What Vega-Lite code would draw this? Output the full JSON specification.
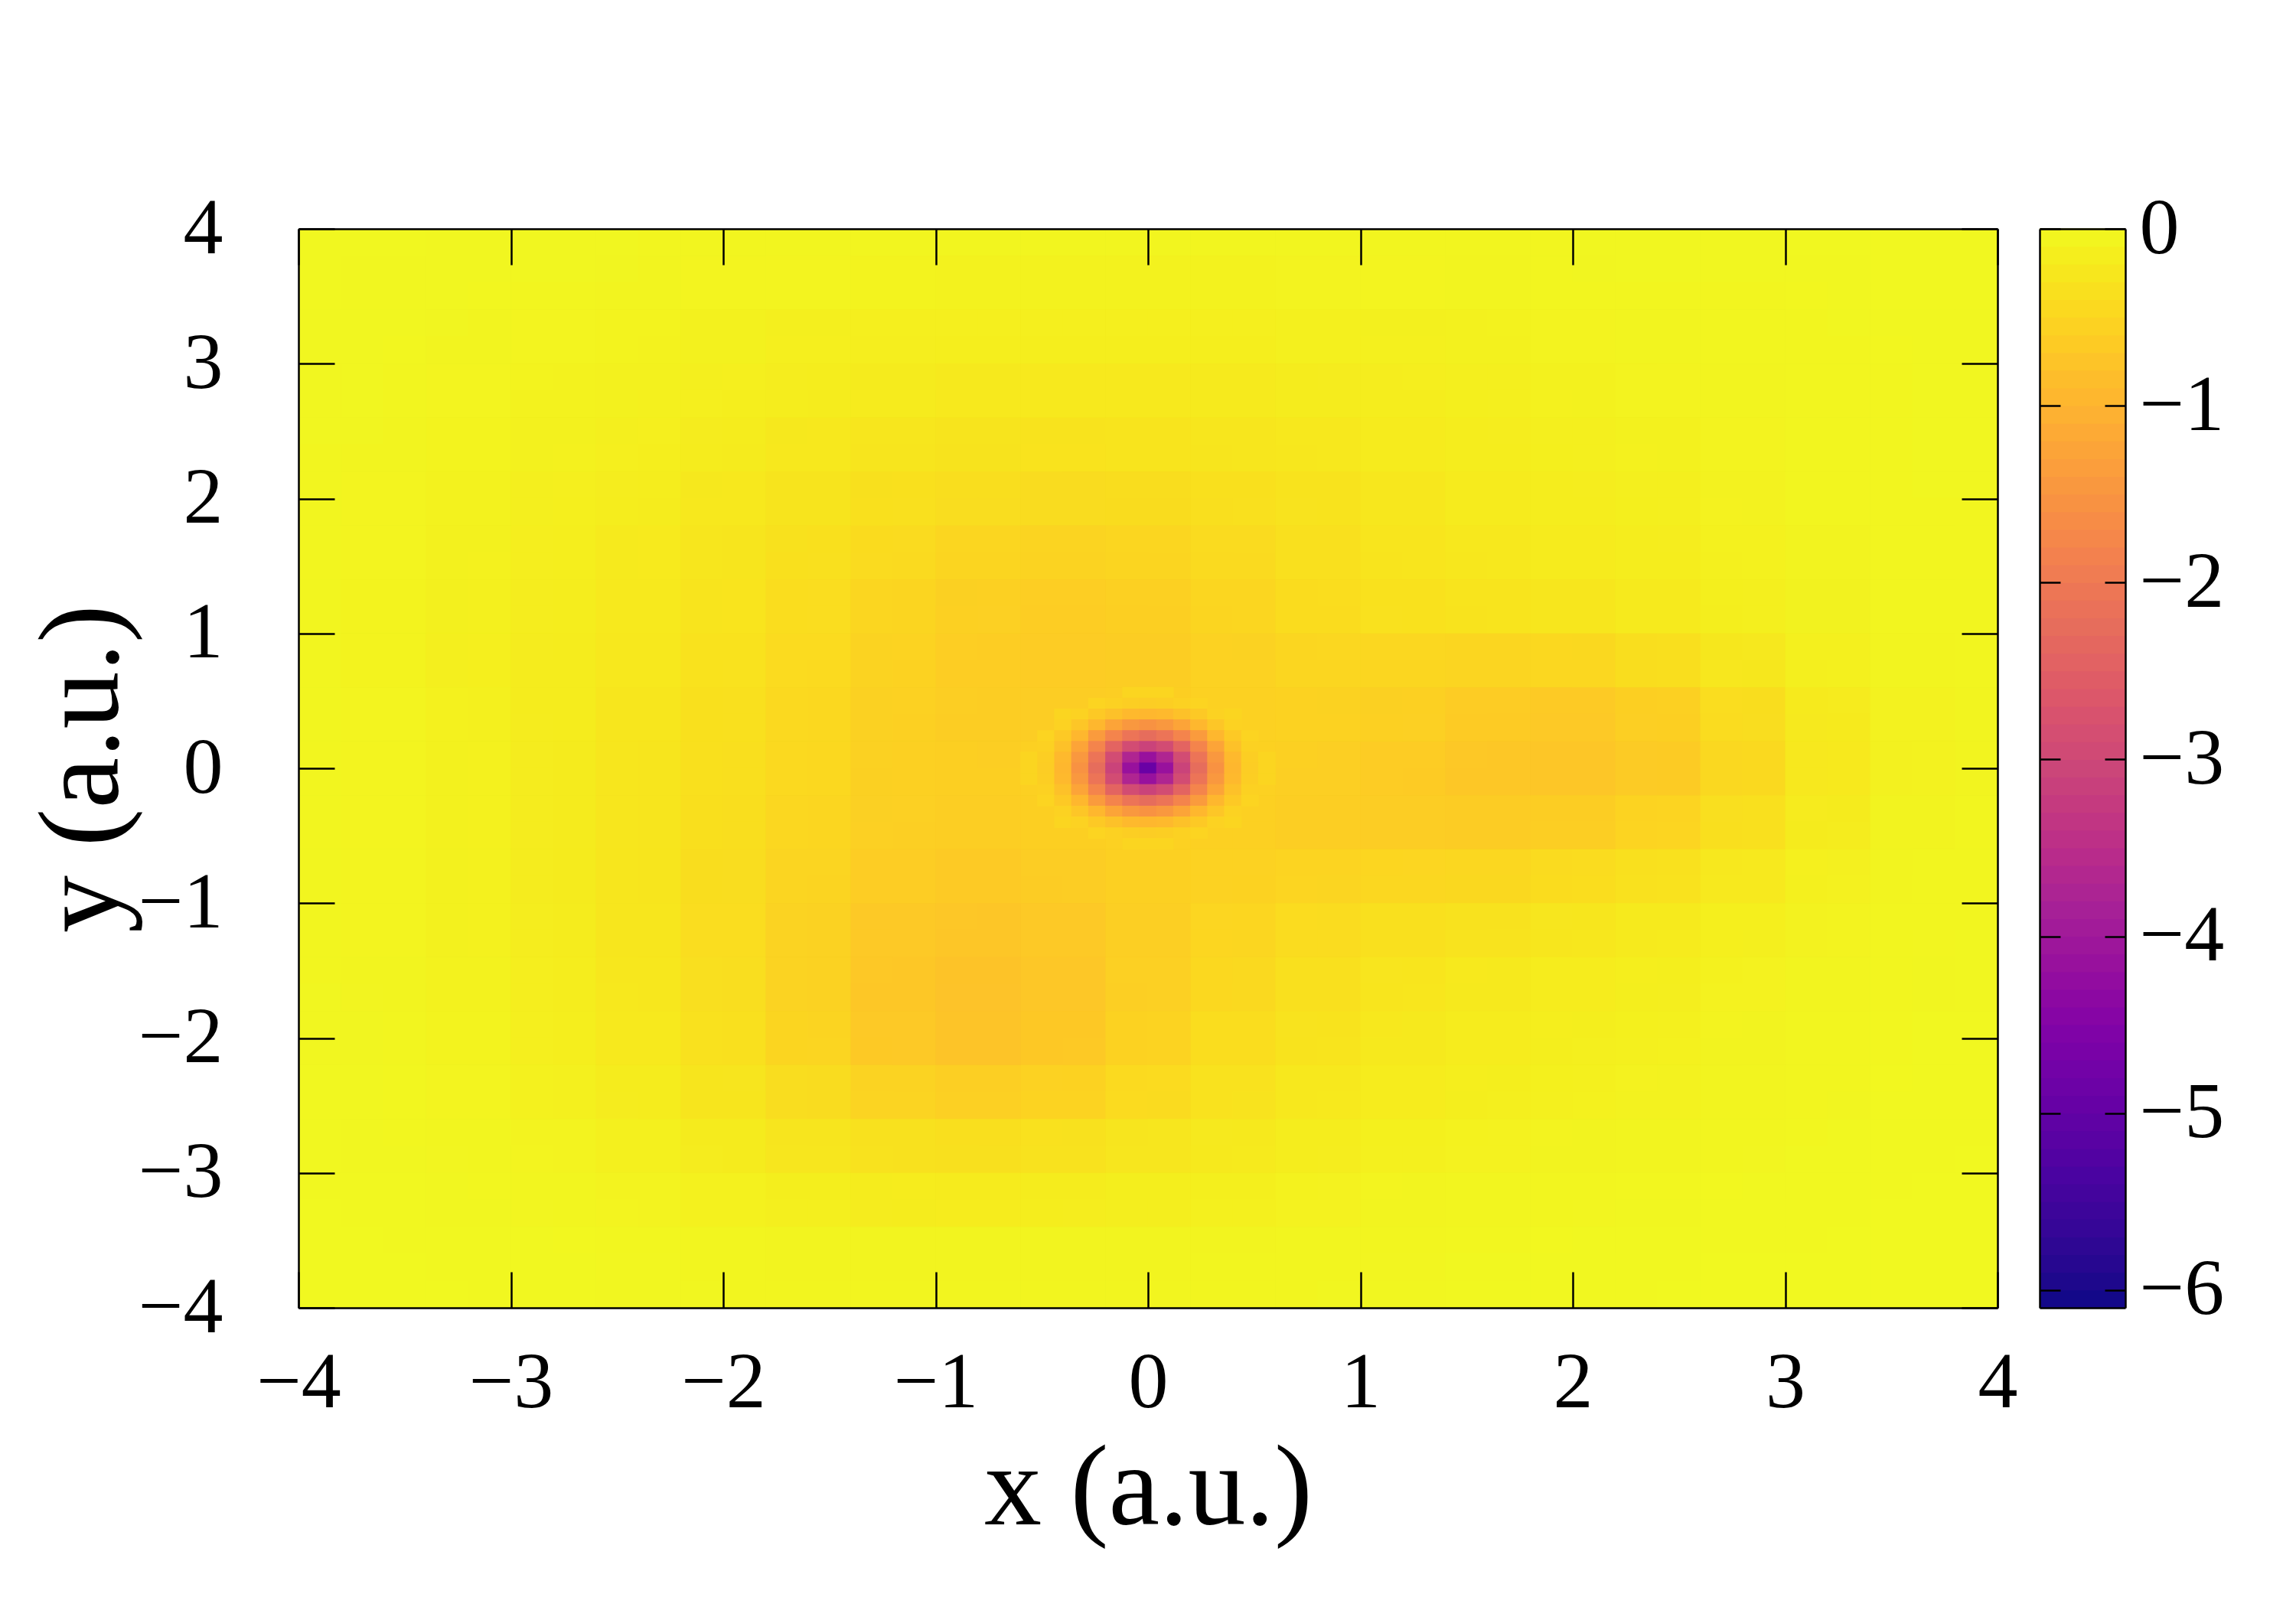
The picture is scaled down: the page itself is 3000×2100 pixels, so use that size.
{"$schema":"https://vega.github.io/schema/vega-lite/v6.json","background":"white","autosize":{"type":"none"},"padding":{"left":390,"top":299,"right":390,"bottom":391},"width":2220,"height":1410,
"config":{"font":"Liberation Serif","view":{"stroke":null},"axis":{"grid":false,"domainColor":"black","domainWidth":2.5,"tickColor":"black","tickWidth":2.5,"labelColor":"black","titleColor":"black","labelFontSize":104,"titleFontSize":150,"titleFontWeight":"normal","labelFont":"Liberation Serif","titleFont":"Liberation Serif"}},
"datasets":{"field":[
{"x":-3.8,"y":3.8,"v":-0.03},{"x":-3.4,"y":3.8,"v":-0.03},{"x":-3.0,"y":3.8,"v":-0.04},{"x":-2.6,"y":3.8,"v":-0.04},{"x":-2.2,"y":3.8,"v":-0.05},{"x":-1.8,"y":3.8,"v":-0.05},{"x":-1.4,"y":3.8,"v":-0.05},{"x":-1.0,"y":3.8,"v":-0.06},{"x":-0.6,"y":3.8,"v":-0.06},{"x":-0.2,"y":3.8,"v":-0.06},{"x":0.2,"y":3.8,"v":-0.06},{"x":0.6,"y":3.8,"v":-0.06},{"x":1.0,"y":3.8,"v":-0.05},{"x":1.4,"y":3.8,"v":-0.05},{"x":1.8,"y":3.8,"v":-0.05},{"x":2.2,"y":3.8,"v":-0.04},{"x":2.6,"y":3.8,"v":-0.04},{"x":3.0,"y":3.8,"v":-0.04},{"x":3.4,"y":3.8,"v":-0.03},{"x":3.8,"y":3.8,"v":-0.03},
{"x":-3.8,"y":3.4,"v":-0.03},{"x":-3.4,"y":3.4,"v":-0.04},{"x":-3.0,"y":3.4,"v":-0.05},{"x":-2.6,"y":3.4,"v":-0.06},{"x":-2.2,"y":3.4,"v":-0.07},{"x":-1.8,"y":3.4,"v":-0.08},{"x":-1.4,"y":3.4,"v":-0.09},{"x":-1.0,"y":3.4,"v":-0.1},{"x":-0.6,"y":3.4,"v":-0.1},{"x":-0.2,"y":3.4,"v":-0.1},{"x":0.2,"y":3.4,"v":-0.1},{"x":0.6,"y":3.4,"v":-0.1},{"x":1.0,"y":3.4,"v":-0.09},{"x":1.4,"y":3.4,"v":-0.08},{"x":1.8,"y":3.4,"v":-0.07},{"x":2.2,"y":3.4,"v":-0.06},{"x":2.6,"y":3.4,"v":-0.05},{"x":3.0,"y":3.4,"v":-0.05},{"x":3.4,"y":3.4,"v":-0.04},{"x":3.8,"y":3.4,"v":-0.03},
{"x":-3.8,"y":3.0,"v":-0.04},{"x":-3.4,"y":3.0,"v":-0.05},{"x":-3.0,"y":3.0,"v":-0.07},{"x":-2.6,"y":3.0,"v":-0.09},{"x":-2.2,"y":3.0,"v":-0.11},{"x":-1.8,"y":3.0,"v":-0.13},{"x":-1.4,"y":3.0,"v":-0.15},{"x":-1.0,"y":3.0,"v":-0.16},{"x":-0.6,"y":3.0,"v":-0.17},{"x":-0.2,"y":3.0,"v":-0.17},{"x":0.2,"y":3.0,"v":-0.17},{"x":0.6,"y":3.0,"v":-0.15},{"x":1.0,"y":3.0,"v":-0.14},{"x":1.4,"y":3.0,"v":-0.12},{"x":1.8,"y":3.0,"v":-0.1},{"x":2.2,"y":3.0,"v":-0.08},{"x":2.6,"y":3.0,"v":-0.07},{"x":3.0,"y":3.0,"v":-0.06},{"x":3.4,"y":3.0,"v":-0.05},{"x":3.8,"y":3.0,"v":-0.04},
{"x":-3.8,"y":2.6,"v":-0.04},{"x":-3.4,"y":2.6,"v":-0.06},{"x":-3.0,"y":2.6,"v":-0.08},{"x":-2.6,"y":2.6,"v":-0.11},{"x":-2.2,"y":2.6,"v":-0.14},{"x":-1.8,"y":2.6,"v":-0.17},{"x":-1.4,"y":2.6,"v":-0.2},{"x":-1.0,"y":2.6,"v":-0.22},{"x":-0.6,"y":2.6,"v":-0.24},{"x":-0.2,"y":2.6,"v":-0.24},{"x":0.2,"y":2.6,"v":-0.23},{"x":0.6,"y":2.6,"v":-0.21},{"x":1.0,"y":2.6,"v":-0.18},{"x":1.4,"y":2.6,"v":-0.16},{"x":1.8,"y":2.6,"v":-0.14},{"x":2.2,"y":2.6,"v":-0.11},{"x":2.6,"y":2.6,"v":-0.09},{"x":3.0,"y":2.6,"v":-0.07},{"x":3.4,"y":2.6,"v":-0.05},{"x":3.8,"y":2.6,"v":-0.04},
{"x":-3.8,"y":2.2,"v":-0.05},{"x":-3.4,"y":2.2,"v":-0.07},{"x":-3.0,"y":2.2,"v":-0.1},{"x":-2.6,"y":2.2,"v":-0.13},{"x":-2.2,"y":2.2,"v":-0.17},{"x":-1.8,"y":2.2,"v":-0.22},{"x":-1.4,"y":2.2,"v":-0.26},{"x":-1.0,"y":2.2,"v":-0.3},{"x":-0.6,"y":2.2,"v":-0.32},{"x":-0.2,"y":2.2,"v":-0.33},{"x":0.2,"y":2.2,"v":-0.31},{"x":0.6,"y":2.2,"v":-0.28},{"x":1.0,"y":2.2,"v":-0.24},{"x":1.4,"y":2.2,"v":-0.2},{"x":1.8,"y":2.2,"v":-0.17},{"x":2.2,"y":2.2,"v":-0.14},{"x":2.6,"y":2.2,"v":-0.11},{"x":3.0,"y":2.2,"v":-0.08},{"x":3.4,"y":2.2,"v":-0.06},{"x":3.8,"y":2.2,"v":-0.04},
{"x":-3.8,"y":1.8,"v":-0.05},{"x":-3.4,"y":1.8,"v":-0.08},{"x":-3.0,"y":1.8,"v":-0.11},{"x":-2.6,"y":1.8,"v":-0.15},{"x":-2.2,"y":1.8,"v":-0.2},{"x":-1.8,"y":1.8,"v":-0.26},{"x":-1.4,"y":1.8,"v":-0.32},{"x":-1.0,"y":1.8,"v":-0.38},{"x":-0.6,"y":1.8,"v":-0.42},{"x":-0.2,"y":1.8,"v":-0.43},{"x":0.2,"y":1.8,"v":-0.4},{"x":0.6,"y":1.8,"v":-0.35},{"x":1.0,"y":1.8,"v":-0.29},{"x":1.4,"y":1.8,"v":-0.24},{"x":1.8,"y":1.8,"v":-0.2},{"x":2.2,"y":1.8,"v":-0.16},{"x":2.6,"y":1.8,"v":-0.12},{"x":3.0,"y":1.8,"v":-0.09},{"x":3.4,"y":1.8,"v":-0.06},{"x":3.8,"y":1.8,"v":-0.05},
{"x":-3.8,"y":1.4,"v":-0.06},{"x":-3.4,"y":1.4,"v":-0.09},{"x":-3.0,"y":1.4,"v":-0.13},{"x":-2.6,"y":1.4,"v":-0.17},{"x":-2.2,"y":1.4,"v":-0.23},{"x":-1.8,"y":1.4,"v":-0.3},{"x":-1.4,"y":1.4,"v":-0.38},{"x":-1.0,"y":1.4,"v":-0.47},{"x":-0.6,"y":1.4,"v":-0.54},{"x":-0.2,"y":1.4,"v":-0.55},{"x":0.2,"y":1.4,"v":-0.5},{"x":0.6,"y":1.4,"v":-0.42},{"x":1.0,"y":1.4,"v":-0.34},{"x":1.4,"y":1.4,"v":-0.28},{"x":1.8,"y":1.4,"v":-0.24},{"x":2.2,"y":1.4,"v":-0.2},{"x":2.6,"y":1.4,"v":-0.15},{"x":3.0,"y":1.4,"v":-0.11},{"x":3.4,"y":1.4,"v":-0.07},{"x":3.8,"y":1.4,"v":-0.05},
{"x":-3.8,"y":1.0,"v":-0.06},{"x":-3.4,"y":1.0,"v":-0.1},{"x":-3.0,"y":1.0,"v":-0.14},{"x":-2.6,"y":1.0,"v":-0.19},{"x":-2.2,"y":1.0,"v":-0.25},{"x":-1.8,"y":1.0,"v":-0.34},{"x":-1.4,"y":1.0,"v":-0.44},{"x":-1.0,"y":1.0,"v":-0.54},{"x":-0.6,"y":1.0,"v":-0.62},{"x":-0.2,"y":1.0,"v":-0.64},{"x":0.2,"y":1.0,"v":-0.58},{"x":0.6,"y":1.0,"v":-0.48},{"x":1.0,"y":1.0,"v":-0.38},{"x":1.4,"y":1.0,"v":-0.34},{"x":1.8,"y":1.0,"v":-0.3},{"x":2.2,"y":1.0,"v":-0.26},{"x":2.6,"y":1.0,"v":-0.2},{"x":3.0,"y":1.0,"v":-0.12},{"x":3.4,"y":1.0,"v":-0.07},{"x":3.8,"y":1.0,"v":-0.05},
{"x":-3.8,"y":0.6,"v":-0.06},{"x":-3.4,"y":0.6,"v":-0.1},{"x":-3.0,"y":0.6,"v":-0.15},{"x":-2.6,"y":0.6,"v":-0.2},{"x":-2.2,"y":0.6,"v":-0.27},{"x":-1.8,"y":0.6,"v":-0.36},{"x":-1.4,"y":0.6,"v":-0.47},{"x":-1.0,"y":0.6,"v":-0.58},{"x":-0.6,"y":0.6,"v":-0.65},{"x":-0.2,"y":0.6,"v":-0.65},{"x":0.2,"y":0.6,"v":-0.6},{"x":0.6,"y":0.6,"v":-0.52},{"x":1.0,"y":0.6,"v":-0.5},{"x":1.4,"y":0.6,"v":-0.52},{"x":1.8,"y":0.6,"v":-0.54},{"x":2.2,"y":0.6,"v":-0.5},{"x":2.6,"y":0.6,"v":-0.38},{"x":3.0,"y":0.6,"v":-0.22},{"x":3.4,"y":0.6,"v":-0.1},{"x":3.8,"y":0.6,"v":-0.06},
{"x":-3.8,"y":0.2,"v":-0.05},{"x":-3.4,"y":0.2,"v":-0.09},{"x":-3.0,"y":0.2,"v":-0.14},{"x":-2.6,"y":0.2,"v":-0.21},{"x":-2.2,"y":0.2,"v":-0.29},{"x":-1.8,"y":0.2,"v":-0.38},{"x":-1.4,"y":0.2,"v":-0.49},{"x":-1.0,"y":0.2,"v":-0.6},{"x":-0.6,"y":0.2,"v":-0.62},{"x":-0.2,"y":0.2,"v":-0.6},{"x":0.2,"y":0.2,"v":-0.58},{"x":0.6,"y":0.2,"v":-0.54},{"x":1.0,"y":0.2,"v":-0.56},{"x":1.4,"y":0.2,"v":-0.62},{"x":1.8,"y":0.2,"v":-0.7},{"x":2.2,"y":0.2,"v":-0.72},{"x":2.6,"y":0.2,"v":-0.58},{"x":3.0,"y":0.2,"v":-0.36},{"x":3.4,"y":0.2,"v":-0.16},{"x":3.8,"y":0.2,"v":-0.07},
{"x":-3.8,"y":-0.2,"v":-0.05},{"x":-3.4,"y":-0.2,"v":-0.09},{"x":-3.0,"y":-0.2,"v":-0.14},{"x":-2.6,"y":-0.2,"v":-0.21},{"x":-2.2,"y":-0.2,"v":-0.29},{"x":-1.8,"y":-0.2,"v":-0.38},{"x":-1.4,"y":-0.2,"v":-0.5},{"x":-1.0,"y":-0.2,"v":-0.6},{"x":-0.6,"y":-0.2,"v":-0.58},{"x":-0.2,"y":-0.2,"v":-0.55},{"x":0.2,"y":-0.2,"v":-0.56},{"x":0.6,"y":-0.2,"v":-0.56},{"x":1.0,"y":-0.2,"v":-0.62},{"x":1.4,"y":-0.2,"v":-0.68},{"x":1.8,"y":-0.2,"v":-0.74},{"x":2.2,"y":-0.2,"v":-0.74},{"x":2.6,"y":-0.2,"v":-0.6},{"x":3.0,"y":-0.2,"v":-0.38},{"x":3.4,"y":-0.2,"v":-0.17},{"x":3.8,"y":-0.2,"v":-0.07},
{"x":-3.8,"y":-0.6,"v":-0.05},{"x":-3.4,"y":-0.6,"v":-0.09},{"x":-3.0,"y":-0.6,"v":-0.14},{"x":-2.6,"y":-0.6,"v":-0.21},{"x":-2.2,"y":-0.6,"v":-0.3},{"x":-1.8,"y":-0.6,"v":-0.4},{"x":-1.4,"y":-0.6,"v":-0.52},{"x":-1.0,"y":-0.6,"v":-0.62},{"x":-0.6,"y":-0.6,"v":-0.62},{"x":-0.2,"y":-0.6,"v":-0.58},{"x":0.2,"y":-0.6,"v":-0.56},{"x":0.6,"y":-0.6,"v":-0.58},{"x":1.0,"y":-0.6,"v":-0.6},{"x":1.4,"y":-0.6,"v":-0.62},{"x":1.8,"y":-0.6,"v":-0.62},{"x":2.2,"y":-0.6,"v":-0.56},{"x":2.6,"y":-0.6,"v":-0.44},{"x":3.0,"y":-0.6,"v":-0.28},{"x":3.4,"y":-0.6,"v":-0.13},{"x":3.8,"y":-0.6,"v":-0.06},
{"x":-3.8,"y":-1.0,"v":-0.05},{"x":-3.4,"y":-1.0,"v":-0.08},{"x":-3.0,"y":-1.0,"v":-0.13},{"x":-2.6,"y":-1.0,"v":-0.21},{"x":-2.2,"y":-1.0,"v":-0.31},{"x":-1.8,"y":-1.0,"v":-0.43},{"x":-1.4,"y":-1.0,"v":-0.56},{"x":-1.0,"y":-1.0,"v":-0.66},{"x":-0.6,"y":-1.0,"v":-0.68},{"x":-0.2,"y":-1.0,"v":-0.62},{"x":0.2,"y":-1.0,"v":-0.56},{"x":0.6,"y":-1.0,"v":-0.52},{"x":1.0,"y":-1.0,"v":-0.48},{"x":1.4,"y":-1.0,"v":-0.44},{"x":1.8,"y":-1.0,"v":-0.4},{"x":2.2,"y":-1.0,"v":-0.34},{"x":2.6,"y":-1.0,"v":-0.26},{"x":3.0,"y":-1.0,"v":-0.16},{"x":3.4,"y":-1.0,"v":-0.09},{"x":3.8,"y":-1.0,"v":-0.05},
{"x":-3.8,"y":-1.4,"v":-0.05},{"x":-3.4,"y":-1.4,"v":-0.08},{"x":-3.0,"y":-1.4,"v":-0.12},{"x":-2.6,"y":-1.4,"v":-0.2},{"x":-2.2,"y":-1.4,"v":-0.3},{"x":-1.8,"y":-1.4,"v":-0.44},{"x":-1.4,"y":-1.4,"v":-0.6},{"x":-1.0,"y":-1.4,"v":-0.72},{"x":-0.6,"y":-1.4,"v":-0.74},{"x":-0.2,"y":-1.4,"v":-0.66},{"x":0.2,"y":-1.4,"v":-0.54},{"x":0.6,"y":-1.4,"v":-0.44},{"x":1.0,"y":-1.4,"v":-0.36},{"x":1.4,"y":-1.4,"v":-0.3},{"x":1.8,"y":-1.4,"v":-0.26},{"x":2.2,"y":-1.4,"v":-0.22},{"x":2.6,"y":-1.4,"v":-0.17},{"x":3.0,"y":-1.4,"v":-0.11},{"x":3.4,"y":-1.4,"v":-0.07},{"x":3.8,"y":-1.4,"v":-0.04},
{"x":-3.8,"y":-1.8,"v":-0.04},{"x":-3.4,"y":-1.8,"v":-0.07},{"x":-3.0,"y":-1.8,"v":-0.11},{"x":-2.6,"y":-1.8,"v":-0.18},{"x":-2.2,"y":-1.8,"v":-0.28},{"x":-1.8,"y":-1.8,"v":-0.42},{"x":-1.4,"y":-1.8,"v":-0.62},{"x":-1.0,"y":-1.8,"v":-0.76},{"x":-0.6,"y":-1.8,"v":-0.8},{"x":-0.2,"y":-1.8,"v":-0.68},{"x":0.2,"y":-1.8,"v":-0.52},{"x":0.6,"y":-1.8,"v":-0.4},{"x":1.0,"y":-1.8,"v":-0.3},{"x":1.4,"y":-1.8,"v":-0.24},{"x":1.8,"y":-1.8,"v":-0.2},{"x":2.2,"y":-1.8,"v":-0.17},{"x":2.6,"y":-1.8,"v":-0.13},{"x":3.0,"y":-1.8,"v":-0.09},{"x":3.4,"y":-1.8,"v":-0.06},{"x":3.8,"y":-1.8,"v":-0.04},
{"x":-3.8,"y":-2.2,"v":-0.04},{"x":-3.4,"y":-2.2,"v":-0.06},{"x":-3.0,"y":-2.2,"v":-0.1},{"x":-2.6,"y":-2.2,"v":-0.16},{"x":-2.2,"y":-2.2,"v":-0.25},{"x":-1.8,"y":-2.2,"v":-0.38},{"x":-1.4,"y":-2.2,"v":-0.56},{"x":-1.0,"y":-2.2,"v":-0.72},{"x":-0.6,"y":-2.2,"v":-0.76},{"x":-0.2,"y":-2.2,"v":-0.64},{"x":0.2,"y":-2.2,"v":-0.46},{"x":0.6,"y":-2.2,"v":-0.34},{"x":1.0,"y":-2.2,"v":-0.26},{"x":1.4,"y":-2.2,"v":-0.2},{"x":1.8,"y":-2.2,"v":-0.16},{"x":2.2,"y":-2.2,"v":-0.13},{"x":2.6,"y":-2.2,"v":-0.1},{"x":3.0,"y":-2.2,"v":-0.07},{"x":3.4,"y":-2.2,"v":-0.05},{"x":3.8,"y":-2.2,"v":-0.03},
{"x":-3.8,"y":-2.6,"v":-0.03},{"x":-3.4,"y":-2.6,"v":-0.05},{"x":-3.0,"y":-2.6,"v":-0.08},{"x":-2.6,"y":-2.6,"v":-0.13},{"x":-2.2,"y":-2.6,"v":-0.2},{"x":-1.8,"y":-2.6,"v":-0.3},{"x":-1.4,"y":-2.6,"v":-0.42},{"x":-1.0,"y":-2.6,"v":-0.52},{"x":-0.6,"y":-2.6,"v":-0.54},{"x":-0.2,"y":-2.6,"v":-0.46},{"x":0.2,"y":-2.6,"v":-0.35},{"x":0.6,"y":-2.6,"v":-0.27},{"x":1.0,"y":-2.6,"v":-0.2},{"x":1.4,"y":-2.6,"v":-0.16},{"x":1.8,"y":-2.6,"v":-0.13},{"x":2.2,"y":-2.6,"v":-0.1},{"x":2.6,"y":-2.6,"v":-0.08},{"x":3.0,"y":-2.6,"v":-0.06},{"x":3.4,"y":-2.6,"v":-0.04},{"x":3.8,"y":-2.6,"v":-0.03},
{"x":-3.8,"y":-3.0,"v":-0.03},{"x":-3.4,"y":-3.0,"v":-0.04},{"x":-3.0,"y":-3.0,"v":-0.06},{"x":-2.6,"y":-3.0,"v":-0.09},{"x":-2.2,"y":-3.0,"v":-0.13},{"x":-1.8,"y":-3.0,"v":-0.19},{"x":-1.4,"y":-3.0,"v":-0.26},{"x":-1.0,"y":-3.0,"v":-0.3},{"x":-0.6,"y":-3.0,"v":-0.3},{"x":-0.2,"y":-3.0,"v":-0.27},{"x":0.2,"y":-3.0,"v":-0.22},{"x":0.6,"y":-3.0,"v":-0.18},{"x":1.0,"y":-3.0,"v":-0.14},{"x":1.4,"y":-3.0,"v":-0.11},{"x":1.8,"y":-3.0,"v":-0.09},{"x":2.2,"y":-3.0,"v":-0.07},{"x":2.6,"y":-3.0,"v":-0.05},{"x":3.0,"y":-3.0,"v":-0.04},{"x":3.4,"y":-3.0,"v":-0.03},{"x":3.8,"y":-3.0,"v":-0.02},
{"x":-3.8,"y":-3.4,"v":-0.02},{"x":-3.4,"y":-3.4,"v":-0.03},{"x":-3.0,"y":-3.4,"v":-0.04},{"x":-2.6,"y":-3.4,"v":-0.06},{"x":-2.2,"y":-3.4,"v":-0.08},{"x":-1.8,"y":-3.4,"v":-0.1},{"x":-1.4,"y":-3.4,"v":-0.13},{"x":-1.0,"y":-3.4,"v":-0.15},{"x":-0.6,"y":-3.4,"v":-0.15},{"x":-0.2,"y":-3.4,"v":-0.14},{"x":0.2,"y":-3.4,"v":-0.12},{"x":0.6,"y":-3.4,"v":-0.1},{"x":1.0,"y":-3.4,"v":-0.08},{"x":1.4,"y":-3.4,"v":-0.06},{"x":1.8,"y":-3.4,"v":-0.05},{"x":2.2,"y":-3.4,"v":-0.04},{"x":2.6,"y":-3.4,"v":-0.03},{"x":3.0,"y":-3.4,"v":-0.03},{"x":3.4,"y":-3.4,"v":-0.02},{"x":3.8,"y":-3.4,"v":-0.02},
{"x":-3.8,"y":-3.8,"v":-0.02},{"x":-3.4,"y":-3.8,"v":-0.02},{"x":-3.0,"y":-3.8,"v":-0.03},{"x":-2.6,"y":-3.8,"v":-0.03},{"x":-2.2,"y":-3.8,"v":-0.04},{"x":-1.8,"y":-3.8,"v":-0.05},{"x":-1.4,"y":-3.8,"v":-0.06},{"x":-1.0,"y":-3.8,"v":-0.06},{"x":-0.6,"y":-3.8,"v":-0.06},{"x":-0.2,"y":-3.8,"v":-0.06},{"x":0.2,"y":-3.8,"v":-0.05},{"x":0.6,"y":-3.8,"v":-0.05},{"x":1.0,"y":-3.8,"v":-0.04},{"x":1.4,"y":-3.8,"v":-0.04},{"x":1.8,"y":-3.8,"v":-0.03},{"x":2.2,"y":-3.8,"v":-0.03},{"x":2.6,"y":-3.8,"v":-0.02},{"x":3.0,"y":-3.8,"v":-0.02},{"x":3.4,"y":-3.8,"v":-0.02},{"x":3.8,"y":-3.8,"v":-0.02}
],
"well":[
{"x":-0.08,"y":0.56,"v":-0.5},{"x":0,"y":0.56,"v":-0.5},{"x":0.08,"y":0.56,"v":-0.5},
{"x":-0.24,"y":0.48,"v":-0.52},{"x":-0.16,"y":0.48,"v":-0.56},{"x":-0.08,"y":0.48,"v":-0.6},{"x":0,"y":0.48,"v":-0.62},{"x":0.08,"y":0.48,"v":-0.6},{"x":0.16,"y":0.48,"v":-0.56},{"x":0.24,"y":0.48,"v":-0.52},
{"x":-0.4,"y":0.4,"v":-0.5},{"x":-0.32,"y":0.4,"v":-0.55},{"x":-0.24,"y":0.4,"v":-0.67},{"x":-0.16,"y":0.4,"v":-0.8},{"x":-0.08,"y":0.4,"v":-0.92},{"x":0,"y":0.4,"v":-0.95},{"x":0.08,"y":0.4,"v":-0.92},{"x":0.16,"y":0.4,"v":-0.8},{"x":0.24,"y":0.4,"v":-0.67},{"x":0.32,"y":0.4,"v":-0.55},{"x":0.4,"y":0.4,"v":-0.5},
{"x":-0.4,"y":0.32,"v":-0.55},{"x":-0.32,"y":0.32,"v":-0.72},{"x":-0.24,"y":0.32,"v":-0.95},{"x":-0.16,"y":0.32,"v":-1.25},{"x":-0.08,"y":0.32,"v":-1.45},{"x":0,"y":0.32,"v":-1.55},{"x":0.08,"y":0.32,"v":-1.45},{"x":0.16,"y":0.32,"v":-1.25},{"x":0.24,"y":0.32,"v":-0.95},{"x":0.32,"y":0.32,"v":-0.72},{"x":0.4,"y":0.32,"v":-0.55},
{"x":-0.48,"y":0.24,"v":-0.52},{"x":-0.4,"y":0.24,"v":-0.67},{"x":-0.32,"y":0.24,"v":-0.95},{"x":-0.24,"y":0.24,"v":-1.4},{"x":-0.16,"y":0.24,"v":-1.8},{"x":-0.08,"y":0.24,"v":-2.1},{"x":0,"y":0.24,"v":-2.25},{"x":0.08,"y":0.24,"v":-2.1},{"x":0.16,"y":0.24,"v":-1.8},{"x":0.24,"y":0.24,"v":-1.4},{"x":0.32,"y":0.24,"v":-0.95},{"x":0.4,"y":0.24,"v":-0.67},{"x":0.48,"y":0.24,"v":-0.52},
{"x":-0.48,"y":0.16,"v":-0.56},{"x":-0.4,"y":0.16,"v":-0.8},{"x":-0.32,"y":0.16,"v":-1.25},{"x":-0.24,"y":0.16,"v":-1.8},{"x":-0.16,"y":0.16,"v":-2.4},{"x":-0.08,"y":0.16,"v":-2.9},{"x":0,"y":0.16,"v":-3.1},{"x":0.08,"y":0.16,"v":-2.9},{"x":0.16,"y":0.16,"v":-2.4},{"x":0.24,"y":0.16,"v":-1.8},{"x":0.32,"y":0.16,"v":-1.25},{"x":0.4,"y":0.16,"v":-0.8},{"x":0.48,"y":0.16,"v":-0.56},
{"x":-0.56,"y":0.08,"v":-0.5},{"x":-0.48,"y":0.08,"v":-0.6},{"x":-0.4,"y":0.08,"v":-0.92},{"x":-0.32,"y":0.08,"v":-1.45},{"x":-0.24,"y":0.08,"v":-2.1},{"x":-0.16,"y":0.08,"v":-2.9},{"x":-0.08,"y":0.08,"v":-3.7},{"x":0,"y":0.08,"v":-4.15},{"x":0.08,"y":0.08,"v":-3.7},{"x":0.16,"y":0.08,"v":-2.9},{"x":0.24,"y":0.08,"v":-2.1},{"x":0.32,"y":0.08,"v":-1.45},{"x":0.4,"y":0.08,"v":-0.92},{"x":0.48,"y":0.08,"v":-0.6},{"x":0.56,"y":0.08,"v":-0.5},
{"x":-0.56,"y":0,"v":-0.5},{"x":-0.48,"y":0,"v":-0.62},{"x":-0.4,"y":0,"v":-0.95},{"x":-0.32,"y":0,"v":-1.55},{"x":-0.24,"y":0,"v":-2.25},{"x":-0.16,"y":0,"v":-3.1},{"x":-0.08,"y":0,"v":-4.15},{"x":0,"y":0,"v":-4.9},{"x":0.08,"y":0,"v":-4.15},{"x":0.16,"y":0,"v":-3.1},{"x":0.24,"y":0,"v":-2.25},{"x":0.32,"y":0,"v":-1.55},{"x":0.4,"y":0,"v":-0.95},{"x":0.48,"y":0,"v":-0.62},{"x":0.56,"y":0,"v":-0.5},
{"x":-0.56,"y":-0.08,"v":-0.5},{"x":-0.48,"y":-0.08,"v":-0.6},{"x":-0.4,"y":-0.08,"v":-0.92},{"x":-0.32,"y":-0.08,"v":-1.45},{"x":-0.24,"y":-0.08,"v":-2.1},{"x":-0.16,"y":-0.08,"v":-2.9},{"x":-0.08,"y":-0.08,"v":-3.7},{"x":0,"y":-0.08,"v":-4.15},{"x":0.08,"y":-0.08,"v":-3.7},{"x":0.16,"y":-0.08,"v":-2.9},{"x":0.24,"y":-0.08,"v":-2.1},{"x":0.32,"y":-0.08,"v":-1.45},{"x":0.4,"y":-0.08,"v":-0.92},{"x":0.48,"y":-0.08,"v":-0.6},{"x":0.56,"y":-0.08,"v":-0.5},
{"x":-0.48,"y":-0.16,"v":-0.56},{"x":-0.4,"y":-0.16,"v":-0.8},{"x":-0.32,"y":-0.16,"v":-1.25},{"x":-0.24,"y":-0.16,"v":-1.8},{"x":-0.16,"y":-0.16,"v":-2.4},{"x":-0.08,"y":-0.16,"v":-2.9},{"x":0,"y":-0.16,"v":-3.1},{"x":0.08,"y":-0.16,"v":-2.9},{"x":0.16,"y":-0.16,"v":-2.4},{"x":0.24,"y":-0.16,"v":-1.8},{"x":0.32,"y":-0.16,"v":-1.25},{"x":0.4,"y":-0.16,"v":-0.8},{"x":0.48,"y":-0.16,"v":-0.56},
{"x":-0.48,"y":-0.24,"v":-0.52},{"x":-0.4,"y":-0.24,"v":-0.67},{"x":-0.32,"y":-0.24,"v":-0.95},{"x":-0.24,"y":-0.24,"v":-1.4},{"x":-0.16,"y":-0.24,"v":-1.8},{"x":-0.08,"y":-0.24,"v":-2.1},{"x":0,"y":-0.24,"v":-2.25},{"x":0.08,"y":-0.24,"v":-2.1},{"x":0.16,"y":-0.24,"v":-1.8},{"x":0.24,"y":-0.24,"v":-1.4},{"x":0.32,"y":-0.24,"v":-0.95},{"x":0.4,"y":-0.24,"v":-0.67},{"x":0.48,"y":-0.24,"v":-0.52},
{"x":-0.4,"y":-0.32,"v":-0.55},{"x":-0.32,"y":-0.32,"v":-0.72},{"x":-0.24,"y":-0.32,"v":-0.95},{"x":-0.16,"y":-0.32,"v":-1.25},{"x":-0.08,"y":-0.32,"v":-1.45},{"x":0,"y":-0.32,"v":-1.55},{"x":0.08,"y":-0.32,"v":-1.45},{"x":0.16,"y":-0.32,"v":-1.25},{"x":0.24,"y":-0.32,"v":-0.95},{"x":0.32,"y":-0.32,"v":-0.72},{"x":0.4,"y":-0.32,"v":-0.55},
{"x":-0.4,"y":-0.4,"v":-0.5},{"x":-0.32,"y":-0.4,"v":-0.55},{"x":-0.24,"y":-0.4,"v":-0.67},{"x":-0.16,"y":-0.4,"v":-0.8},{"x":-0.08,"y":-0.4,"v":-0.92},{"x":0,"y":-0.4,"v":-0.95},{"x":0.08,"y":-0.4,"v":-0.92},{"x":0.16,"y":-0.4,"v":-0.8},{"x":0.24,"y":-0.4,"v":-0.67},{"x":0.32,"y":-0.4,"v":-0.55},{"x":0.4,"y":-0.4,"v":-0.5},
{"x":-0.24,"y":-0.48,"v":-0.52},{"x":-0.16,"y":-0.48,"v":-0.56},{"x":-0.08,"y":-0.48,"v":-0.6},{"x":0,"y":-0.48,"v":-0.62},{"x":0.08,"y":-0.48,"v":-0.6},{"x":0.16,"y":-0.48,"v":-0.56},{"x":0.24,"y":-0.48,"v":-0.52},
{"x":-0.08,"y":-0.56,"v":-0.5},{"x":0,"y":-0.56,"v":-0.5},{"x":0.08,"y":-0.56,"v":-0.5}
],
"bar":[
{"v":-6.05},{"v":-5.95},{"v":-5.85},{"v":-5.75},{"v":-5.65},{"v":-5.55},{"v":-5.45},{"v":-5.35},{"v":-5.25},{"v":-5.15},{"v":-5.05},{"v":-4.95},{"v":-4.85},{"v":-4.75},{"v":-4.65},{"v":-4.55},{"v":-4.45},{"v":-4.35},{"v":-4.25},{"v":-4.15},{"v":-4.05},{"v":-3.95},{"v":-3.85},{"v":-3.75},{"v":-3.65},{"v":-3.55},{"v":-3.45},{"v":-3.35},{"v":-3.25},{"v":-3.15},{"v":-3.05},{"v":-2.95},{"v":-2.85},{"v":-2.75},{"v":-2.65},{"v":-2.55},{"v":-2.45},{"v":-2.35},{"v":-2.25},{"v":-2.15},{"v":-2.05},{"v":-1.95},{"v":-1.85},{"v":-1.75},{"v":-1.65},{"v":-1.55},{"v":-1.45},{"v":-1.35},{"v":-1.25},{"v":-1.15},{"v":-1.05},{"v":-0.95},{"v":-0.85},{"v":-0.75},{"v":-0.65},{"v":-0.55},{"v":-0.45},{"v":-0.35},{"v":-0.25},{"v":-0.15},{"v":-0.05}
]},
"resolve":{"scale":{"x":"independent","y":"independent"},"axis":{"x":"independent","y":"independent"}},
"layer":[
{"data":{"name":"field"},"mark":{"type":"rect","width":112.5,"height":72,"clip":true},
"encoding":{
"x":{"field":"x","type":"quantitative","scale":{"domain":[-4,4],"nice":false},"axis":{"orient":"bottom","zindex":1,"values":[-4,-3,-2,-1,0,1,2,3,4],"tickSize":-47,"labelPadding":94,"labelFlush":false,"format":"d","title":"x (a.u.)","titlePadding":13}},
"y":{"field":"y","type":"quantitative","scale":{"domain":[-4,4],"nice":false},"axis":{"orient":"left","zindex":1,"values":[-4,-3,-2,-1,0,1,2,3,4],"tickSize":-47,"labelPadding":146,"format":"d","title":"y (a.u.)","titlePadding":6}},
"color":{"field":"v","type":"quantitative","legend":null,"scale":{"domain":[-6.1,0],"range":["#0c0887","#4b03a1","#7d03a8","#a82296","#cb4679","#e56b5d","#f89441","#fdc328","#f0f921"]}}}},
{"data":{"name":"field"},"mark":{"type":"rect","width":222,"height":141,"opacity":0.5,"clip":true},
"encoding":{
"x":{"field":"x","type":"quantitative","scale":{"domain":[-4,4],"nice":false},"axis":null},
"y":{"field":"y","type":"quantitative","scale":{"domain":[-4,4],"nice":false},"axis":null},
"color":{"field":"v","type":"quantitative","legend":null,"scale":{"domain":[-6.1,0],"range":["#0c0887","#4b03a1","#7d03a8","#a82296","#cb4679","#e56b5d","#f89441","#fdc328","#f0f921"]}}}},
{"data":{"name":"well"},"mark":{"type":"rect","width":23,"height":15,"clip":true},
"encoding":{
"x":{"field":"x","type":"quantitative","scale":{"domain":[-4,4],"nice":false},"axis":{"orient":"top","zindex":1,"values":[-4,-3,-2,-1,0,1,2,3,4],"tickSize":-47,"labels":false,"title":null}},
"y":{"field":"y","type":"quantitative","scale":{"domain":[-4,4],"nice":false},"axis":{"orient":"right","zindex":1,"values":[-4,-3,-2,-1,0,1,2,3,4],"tickSize":-47,"labels":false,"title":null}},
"color":{"field":"v","type":"quantitative","legend":null,"scale":{"domain":[-6.1,0],"range":["#0c0887","#4b03a1","#7d03a8","#a82296","#cb4679","#e56b5d","#f89441","#fdc328","#f0f921"]}}}},
{"data":{"name":"bar"},"mark":{"type":"rect","width":112,"height":24},
"encoding":{
"x":{"datum":0.5,"type":"quantitative","scale":{"domain":[0,1],"range":[2275,2387],"nice":false},"axis":{"orient":"bottom","zindex":1,"values":[],"labels":false,"ticks":false,"title":null}},
"y":{"field":"v","type":"quantitative","scale":{"domain":[-6.1,0],"nice":false},"axis":{"orient":"right","zindex":1,"offset":167,"values":[-6,-5,-4,-3,-2,-1,0],"tickSize":-27,"labelPadding":45,"format":"d","title":null}},
"color":{"field":"v","type":"quantitative","legend":null,"scale":{"domain":[-6.1,0],"range":["#0c0887","#4b03a1","#7d03a8","#a82296","#cb4679","#e56b5d","#f89441","#fdc328","#f0f921"]}}}},
{"data":{"name":"bar"},"mark":{"type":"rect","width":112,"height":24,"opacity":0},
"encoding":{
"x":{"datum":0.5,"type":"quantitative","scale":{"domain":[0,1],"range":[2275,2387],"nice":false},"axis":{"orient":"top","zindex":1,"values":[],"labels":false,"ticks":false,"title":null}},
"y":{"field":"v","type":"quantitative","scale":{"domain":[-6.1,0],"nice":false},"axis":{"orient":"right","zindex":1,"offset":55,"values":[-6,-5,-4,-3,-2,-1,0],"tickSize":27,"labels":false,"title":null}}}}
]}
